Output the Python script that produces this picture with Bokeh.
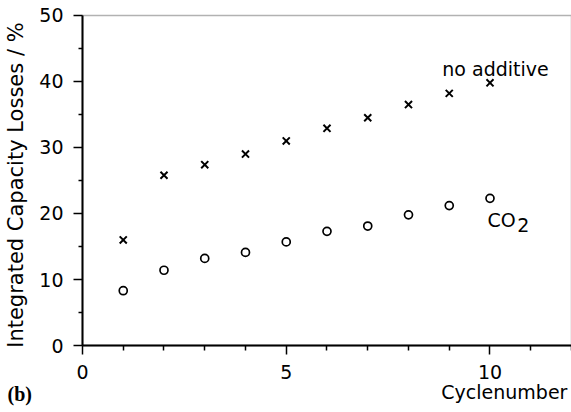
from bokeh.plotting import figure
from bokeh.models import FixedTicker, Label, Range1d, LinearAxis, BoxAnnotation
from bokeh.embed import file_html
from bokeh.resources import INLINE

cycles = [1, 2, 3, 4, 5, 6, 7, 8, 9, 10]
no_additive = [16.0, 25.8, 27.4, 29.0, 31.0, 32.9, 34.5, 36.5, 38.2, 39.8]
co2 = [8.3, 11.4, 13.2, 14.1, 15.7, 17.3, 18.1, 19.8, 21.2, 22.3]
x_major = [0, 5, 10]
x_minor = [1, 2, 3, 4, 6, 7, 8, 9, 11, 12]
y_major = [0, 10, 20, 30, 40, 50]
y_minor = [5, 15, 25, 35, 45]
x_lim = (0, 12)
y_lim = (0, 50)

FONT = "DejaVu Sans"

# frame covers the whole canvas; axes are placed at x=0 / y=0
p = figure(width=571, height=412, output_backend="svg", toolbar_location=None,
           x_range=Range1d(-2.012, 12.0), y_range=Range1d(-10.15, 52.27),
           x_axis_type=None, y_axis_type=None,
           min_border_left=0, min_border_right=0, min_border_top=0, min_border_bottom=0)
p.grid.visible = False
p.background_fill_color = "white"
p.border_fill_color = "white"
p.outline_line_color = None

p.add_layout(BoxAnnotation(left=x_lim[0], right=x_lim[1], bottom=y_lim[0], top=y_lim[1],
                           fill_color=None, line_color="black", line_width=1.5))

p.scatter(cycles, no_additive, marker="x", size=10, line_color="black", line_width=2)
p.scatter(cycles, co2, marker="circle", size=8, fill_color=None, line_color="black", line_width=1.7)

xaxis = LinearAxis(fixed_location=0, bounds=x_lim)
yaxis = LinearAxis(fixed_location=0, bounds=y_lim)
p.add_layout(xaxis, "below")
p.add_layout(yaxis, "left")

for ax, maj, mnr in ((xaxis, x_major, x_minor), (yaxis, y_major, y_minor)):
    ax.ticker = FixedTicker(ticks=maj, minor_ticks=mnr)
    ax.axis_line_width = 2
    ax.axis_line_color = "black"
    ax.major_tick_line_width = 1.5
    ax.minor_tick_line_width = 1.5
    ax.major_tick_in = 0
    ax.minor_tick_in = 0
    ax.major_label_text_font = FONT
    ax.major_label_text_font_size = "19px"
    ax.major_label_text_color = "black"
    ax.major_label_standoff = 10

xaxis.major_tick_out = 9
xaxis.minor_tick_out = 5
yaxis.major_tick_out = 9
yaxis.minor_tick_out = 4

def lab(x, y, text, size="19px", font=FONT, style="normal", align="left",
        baseline="alphabetic", angle=0):
    p.add_layout(Label(x=x, y=y, text=text, text_font=font, text_font_style=style,
                       text_font_size=size, text_color="black", text_align=align,
                       text_baseline=baseline, angle=angle, angle_units="deg"))

lab(-1.63, 24.3, "Integrated Capacity Losses / %", size="21px", align="center",
    baseline="middle", angle=90)
lab(8.83, 41.9, "no additive")
lab(9.94, 19.0, "CO")
lab(10.67, 18.2, "2")
lab(11.9, -7.1, "Cyclenumber", align="right")
lab(-1.84, -7.3, "(b)", size="20px", font="Liberation Serif", style="bold")

html = file_html(p, INLINE)
html = html.replace("<body>", '<body style="margin:0">', 1)
open("out.html", "w").write(html)
